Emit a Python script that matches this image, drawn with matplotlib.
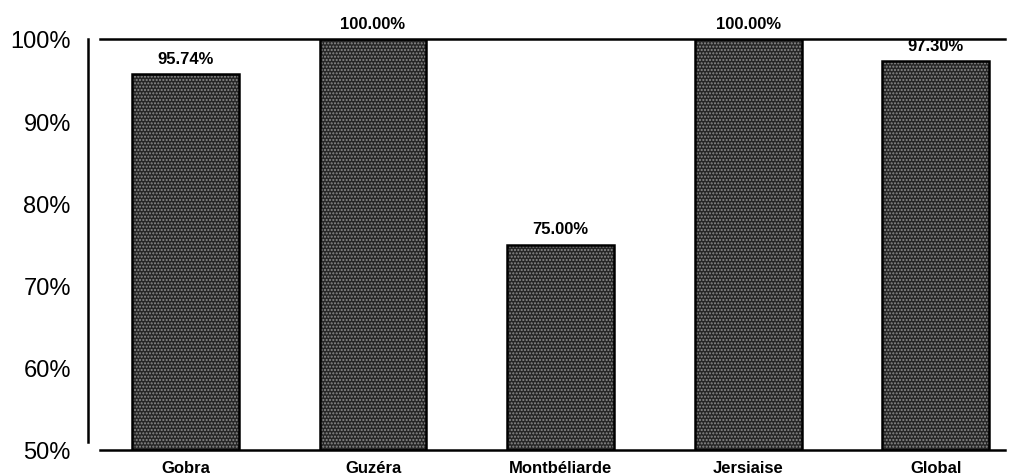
import matplotlib.pyplot as plt
import numpy as np

# données
races = ["Gobra", "Guzéra", "Montbéliarde", "Jersiaise", "Global"]
taux = [95.74, 100.00, 75.00, 100.00, 97.30]
etiquettes = ["95.74%", "100.00%", "75.00%", "100.00%", "97.30%"]
yticks = [50, 60, 70, 80, 90, 100]

plt.rcParams['font.family'] = ['Liberation Sans', 'DejaVu Sans']
plt.rcParams['hatch.linewidth'] = 1.0

fig = plt.figure(figsize=(10.22, 4.77), dpi=100)
ax = fig.add_axes([100 / 1022, 26 / 477, 905 / 1022, 411 / 477])

x = np.arange(len(races))
largeur = 0.57

# remplissage pointillé (gris foncé avec points clairs)
ax.bar(x, [t - 50 for t in taux], largeur, bottom=50, color='#262626',
       edgecolor='#8c8c8c', hatch='.....', linewidth=0, zorder=2)
# contour noir
ax.bar(x, [t - 50 for t in taux], largeur, bottom=50, fill=False,
       edgecolor='black', linewidth=1.8, zorder=3)

for xi, t, lab in zip(x, taux, etiquettes):
    ax.annotate(lab, xy=(xi, t), xytext=(0, 6), textcoords='offset points',
                ha='center', va='bottom', fontsize=12, fontweight='bold',
                clip_on=False)

ax.set_xlim(-0.456, 4.37)
ax.set_ylim(50, 100)
ax.set_yticks(yticks)
ax.set_yticklabels([f"{v}%" for v in yticks])
ax.set_xticks(x)
ax.set_xticklabels(races, fontweight='bold')
ax.tick_params(axis='x', length=0, pad=7, labelsize=12)
ax.tick_params(axis='y', length=0, pad=12, labelsize=17)

ax.spines['right'].set_visible(False)
ax.spines['left'].set_position(('outward', 9))
ax.spines['left'].set_bounds(51, 100)
for s in ['left', 'top', 'bottom']:
    ax.spines[s].set_linewidth(1.8)

plt.savefig('out.png', dpi=100, facecolor='white')
